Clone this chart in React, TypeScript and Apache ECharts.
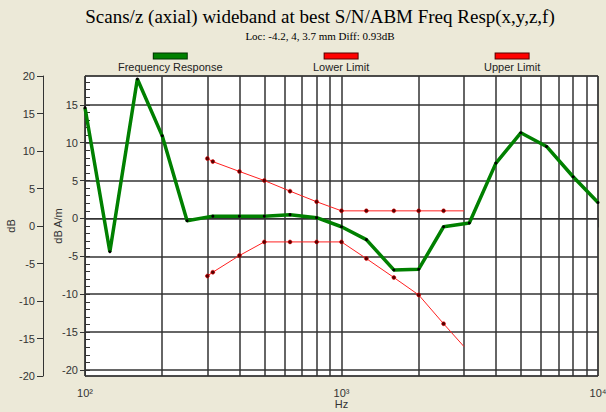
import React, { useEffect, useRef } from "react";
import * as echarts from "echarts";

const titleText = "Scans/z (axial) wideband at best S/N/ABM Freq Resp(x,y,z,f)";
const subTitleText = "Loc: -4.2, 4, 3.7 mm Diff: 0.93dB";

const seriesNames = ["Frequency Response", "Lower Limit", "Upper Limit"];

const frFreqs = [100, 125, 160, 200, 250, 315, 400, 500, 630, 800, 1000, 1250, 1600, 2000, 2500, 3150, 4000, 5000, 6300, 8000, 10000];
const frValues = [14.6, -4.4, 18.4, 10.9, -0.3, 0.3, 0.3, 0.3, 0.5, 0.1, -1.1, -2.8, -6.8, -6.7, -1.1, -0.6, 7.3, 11.3, 9.5, 5.5, 2.1];

const limitFreqs = [300, 315, 400, 500, 630, 800, 1000, 1250, 1600, 2000, 2500, 3000];
const lowerValues = [-7.6, -7.1, -4.9, -3.1, -3.1, -3.1, -3.1, -5.3, -7.8, -10.1, -13.9, -16.9];
const upperValues = [7.9, 7.5, 6.2, 5.0, 3.6, 2.2, 1.0, 1.0, 1.0, 1.0, 1.0, 1.0];

const minorGridFreqs = [200, 300, 400, 500, 600, 700, 800, 900, 2000, 3000, 4000, 5000, 6000, 7000, 8000, 9000];
const innerMinorTicks = [-20, -19, -18, -17, -16, -15, -14, -13, -12, -11, -10, -9, -8, -7, -6, -5, -4, -3, -2, -1, 0, 1, 2, 3, 4, 5, 6, 7, 8, 9, 10, 11, 12, 13, 14, 15, 16, 17, 18];

const xLabels: Record<number, string> = { 100: "10²", 1000: "10³", 10000: "10⁴" };

const GRID = "#333";
const FONT = "Liberation Sans";

function limitData(freqs: number[], vals: number[]) {
  return freqs.map((f, i) =>
    i === freqs.length - 1 ? { value: [f, vals[i]], symbol: "none" } : { value: [f, vals[i]] }
  );
}

function legendFor(name: string, left: number, fill: string, border: string) {
  return {
    data: [name],
    left,
    top: 50,
    padding: 0,
    itemWidth: 0,
    itemHeight: 0,
    selectedMode: false,
    formatter: (n: string) => `{box|}\n{t|${n}}`,
    textStyle: {
      rich: {
        box: { width: 33, height: 5, lineHeight: 5, backgroundColor: fill, borderColor: border, borderWidth: 1, align: "center" },
        t: { fontFamily: FONT, fontSize: 11, color: "#222", lineHeight: 16, align: "center" },
      },
    },
  };
}

export default function App() {
  const ref = useRef<HTMLDivElement>(null);
  useEffect(() => {
    if (!ref.current) return;
    const chart = echarts.init(ref.current, null, { renderer: "svg" });
    const option: any = {
      animation: false,
      backgroundColor: "#ece9d8",
      title: [
        {
          text: titleText,
          left: 315,
          top: 2,
          textAlign: "center",
          textStyle: { fontFamily: "Liberation Serif", fontSize: 19, fontWeight: "normal", color: "#000" },
        },
        {
          text: subTitleText,
          left: 315,
          top: 25,
          textAlign: "center",
          textStyle: { fontFamily: "Liberation Serif", fontSize: 11, fontWeight: "normal", color: "#000" },
        },
      ],
      legend: [
        legendFor(seriesNames[0], 112, "#008000", "#003300"),
        legendFor(seriesNames[1], 307, "#ff0000", "#550000"),
        legendFor(seriesNames[2], 478, "#ff0000", "#550000"),
      ],
      grid: {
        left: 85,
        right: 8,
        top: 76,
        bottom: 36,
        outerBoundsMode: "none",
        containLabel: false,
        show: true,
        backgroundColor: "#ffffff",
        borderColor: GRID,
        borderWidth: 1,
      },
      xAxis: {
        type: "log",
        logBase: 10,
        min: 100,
        max: 10000,
        name: "Hz",
        nameLocation: "middle",
        nameGap: 22,
        nameMoveOverlap: false,
        nameTextStyle: { fontFamily: FONT, fontSize: 11, color: "#333" },
        axisLine: { show: true, lineStyle: { color: GRID } },
        axisTick: { show: true, length: 9, lineStyle: { color: GRID } },
        axisLabel: {
          fontFamily: FONT,
          fontSize: 11,
          color: "#333",
          margin: 11,
          formatter: (v: number) => xLabels[Math.round(v)] ?? "",
        },
        splitLine: { show: true, lineStyle: { color: GRID, width: 1.5 } },
      },
      yAxis: [
        {
          type: "value",
          min: -20.8,
          max: 18.8,
          splitNumber: 8,
          position: "left",
          offset: 0,
          name: "dB A/m",
          nameLocation: "middle",
          nameGap: 22,
          nameMoveOverlap: false,
          nameRotate: 90,
          nameTextStyle: { fontFamily: FONT, fontSize: 11, color: "#333" },
          axisLine: { show: true, lineStyle: { color: GRID } },
          axisTick: { show: true, length: 5, lineStyle: { color: GRID } },
          axisLabel: { fontFamily: FONT, fontSize: 11, color: "#333", margin: 7, showMinLabel: false, showMaxLabel: false },
          splitLine: { show: true, lineStyle: { color: GRID, width: 1.5 } },
        },
        {
          type: "value",
          min: -20,
          max: 20,
          interval: 5,
          position: "left",
          offset: 42,
          name: "dB",
          nameLocation: "middle",
          nameGap: 27,
          nameMoveOverlap: false,
          nameRotate: 90,
          nameTextStyle: { fontFamily: FONT, fontSize: 11, color: "#333" },
          axisLine: { show: true, lineStyle: { color: GRID } },
          axisTick: { show: true, length: 6, lineStyle: { color: GRID } },
          axisLabel: { fontFamily: FONT, fontSize: 11, color: "#333", margin: 8 },
          splitLine: { show: false },
        },
        {
          type: "value",
          min: -20.8,
          max: 18.8,
          position: "left",
          offset: 0,
          axisLine: { show: false },
          axisTick: { show: true, inside: true, length: 5, customValues: innerMinorTicks, lineStyle: { color: GRID } },
          axisLabel: { show: false },
          splitLine: { show: false },
        },
      ],
      series: [
        {
          name: "grid-minor",
          type: "line",
          data: [],
          silent: true,
          markLine: {
            silent: true,
            z: 1,
            symbol: ["none", "none"],
            label: { show: false },
            lineStyle: { color: GRID, width: 1.5, type: "solid" },
            emphasis: { disabled: true },
            data: minorGridFreqs.map((f) => ({ xAxis: f })),
          },
        },
        {
          name: seriesNames[0],
          type: "line",
          z: 4,
          data: frFreqs.map((f, i) => [f, frValues[i]]),
          lineStyle: { color: "#008000", width: 3.5 },
          itemStyle: { color: "#000" },
          symbol: "circle",
          symbolSize: 3,
          showSymbol: true,
        },
        {
          name: seriesNames[1],
          type: "line",
          z: 3,
          data: limitData(limitFreqs, lowerValues),
          lineStyle: { color: "#ff2020", width: 1 },
          itemStyle: { color: "#550000", borderColor: "#ff0000", borderWidth: 0.5 },
          symbol: "circle",
          symbolSize: 4,
        },
        {
          name: seriesNames[2],
          type: "line",
          z: 3,
          data: limitData(limitFreqs, upperValues),
          lineStyle: { color: "#ff2020", width: 1 },
          itemStyle: { color: "#550000", borderColor: "#ff0000", borderWidth: 0.5 },
          symbol: "circle",
          symbolSize: 4,
        },
      ],
    };
    chart.setOption(option);
    return () => chart.dispose();
  }, []);
  return (
    <div
      ref={ref}
      style={{ position: "fixed", left: 0, top: 0, width: 606, height: 412 }}
    />
  );
}
